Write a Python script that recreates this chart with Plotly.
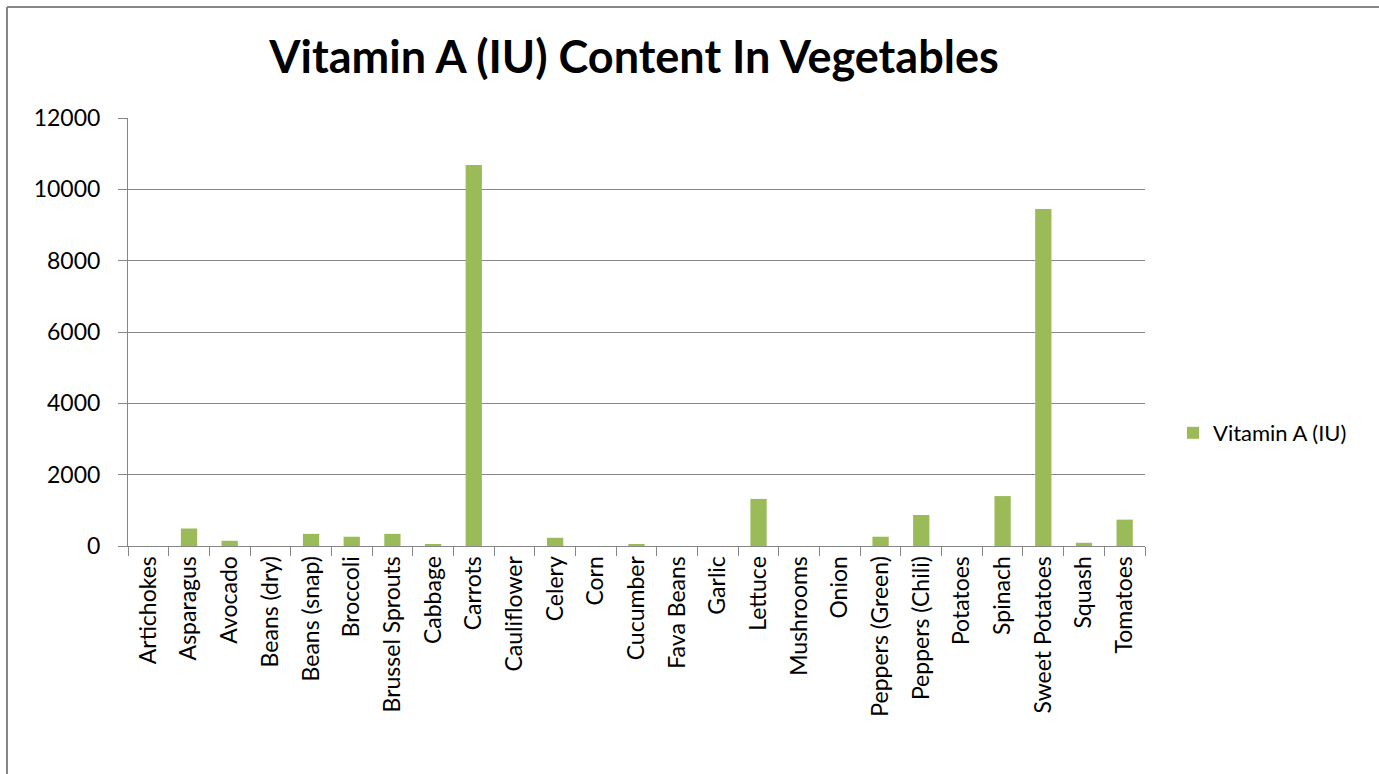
import plotly.graph_objects as go

categories = ["Artichokes", "Asparagus", "Avocado", "Beans (dry)", "Beans (snap)", "Broccoli",
              "Brussel Sprouts", "Cabbage", "Carrots", "Cauliflower", "Celery", "Corn", "Cucumber",
              "Fava Beans", "Garlic", "Lettuce", "Mushrooms", "Onion", "Peppers (Green)",
              "Peppers (Chili)", "Potatoes", "Spinach", "Sweet Potatoes", "Squash", "Tomatoes"]
vitamin_a = [0, 490, 146, 0, 340, 260, 340, 30, 10680, 0, 230, 0, 30, 0, 0, 1320, 0, 0, 260,
             870, 0, 1400, 9450, 90, 740]
y_ticks = [0, 2000, 4000, 6000, 8000, 10000, 12000]

W, H = 1379, 774
L, R, T, B = 128, 1145, 118, 546

fig = go.Figure()
fig.add_trace(go.Bar(x=categories, y=vitamin_a, name="Vitamin A (IU)",
                     marker=dict(color="#9BBB59", line=dict(width=0))))

grid = "#868686"
fig.update_layout(
    width=W, height=H,
    margin=dict(l=L, r=W - R, t=T, b=H - B, autoexpand=False),
    paper_bgcolor="white", plot_bgcolor="white",
    font=dict(family="Lato, Open Sans, sans-serif", color="black", size=23),
    title=dict(text="<b>Vitamin A (IU) Content In Vegetables</b>", x=634 / W, xanchor="center",
               y=1 - 57 / H, yanchor="middle", font=dict(size=45, family="Lato, sans-serif")),
    bargap=0.6,
    showlegend=True,
    legend=dict(x=(1173 - L) / (R - L), xanchor="left", y=(B - 433) / (B - T), yanchor="middle",
                font=dict(size=22), bgcolor="rgba(0,0,0,0)", itemwidth=30),
    xaxis=dict(type="category", tickangle=-90, showline=True, linecolor=grid, linewidth=1,
               ticks="outside", tickson="boundaries", ticklen=9, tickcolor=grid,
               showgrid=False, tickfont=dict(size=23)),
    yaxis=dict(range=[0, 12000], tickvals=y_ticks, tickformat="d", showline=True,
               linecolor=grid, linewidth=1, ticks="outside", ticklen=9, tickcolor=grid,
               showgrid=True, gridcolor=grid, gridwidth=1, zeroline=False,
               tickfont=dict(size=23), ticklabelstandoff=13),
    shapes=[
        dict(type="line", xref="paper", yref="paper",
             x0=(7 - L) / (R - L), x1=(7 - L) / (R - L), y0=(B - 7) / (B - T), y1=(B - 800) / (B - T),
             line=dict(color=grid, width=2)),
        dict(type="line", xref="paper", yref="paper",
             x0=(7 - L) / (R - L), x1=(1400 - L) / (R - L), y0=(B - 7) / (B - T), y1=(B - 7) / (B - T),
             line=dict(color=grid, width=2)),
    ],
)

fig.write_html("out.html", config={"displayModeBar": False},
               post_script="document.body.style.margin='0';document.body.style.padding='0';"
                           "document.body.style.overflow='hidden';")
